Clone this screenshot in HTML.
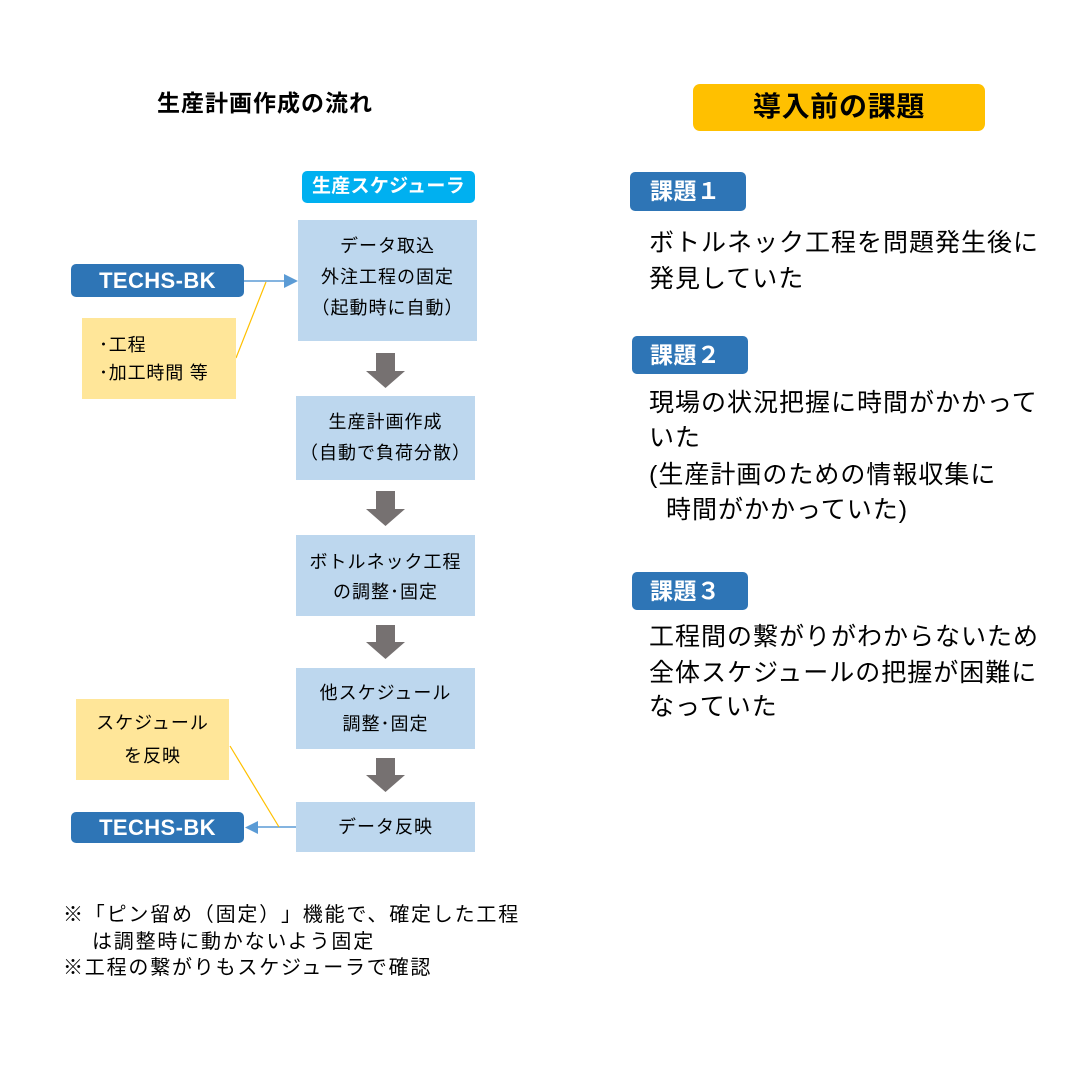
<!DOCTYPE html>
<html lang="ja">
<head>
<meta charset="utf-8">
<style>
  html,body{margin:0;padding:0;background:#fff;}
  body{width:1081px;height:1081px;position:relative;overflow:hidden;
       font-family:"Liberation Sans","Noto Sans CJK JP",sans-serif;color:#000;
       text-spacing-trim:space-all;}
  .a{position:absolute;}
  .t{position:absolute;white-space:nowrap;height:30px;line-height:30px;}
  .box{position:absolute;background:#BDD7EE;}
  .bt{position:absolute;white-space:nowrap;text-align:center;font-size:18px;letter-spacing:1px;height:30px;line-height:30px;}
  .yel{position:absolute;background:#FFE699;}
  .blue{position:absolute;background:#2E75B6;border-radius:5px;color:#fff;font-weight:bold;}
  .r{position:absolute;white-space:nowrap;font-size:25px;letter-spacing:1px;height:34px;line-height:34px;left:649px;}
  .n{position:absolute;white-space:nowrap;font-size:20px;letter-spacing:1.8px;height:26px;line-height:26px;}
</style>
</head>
<body>

<svg class="a" style="left:0;top:0" width="1081" height="1081" viewBox="0 0 1081 1081">
  <g fill="#767171">
    <polygon points="376,353 395,353 395,371 405,371 385.5,388 366,371 376,371"/>
    <polygon points="376,491 395,491 395,509 405,509 385.5,526 366,509 376,509"/>
    <polygon points="376,625 395,625 395,642 405,642 385.5,659 366,642 376,642"/>
    <polygon points="376,758 395,758 395,775 405,775 385.5,792 366,775 376,775"/>
  </g>
  <line x1="244" y1="281" x2="286" y2="281" stroke="#5B9BD5" stroke-width="1.5"/>
  <polygon points="284,274 298,281 284,288" fill="#5B9BD5"/>
  <line x1="296" y1="827" x2="257" y2="827" stroke="#5B9BD5" stroke-width="1.5"/>
  <polygon points="258,821 245,827.5 258,834" fill="#5B9BD5"/>
  <line x1="236" y1="358" x2="266" y2="282" stroke="#FFC000" stroke-width="1.2"/>
  <line x1="230" y1="746" x2="279" y2="827" stroke="#FFC000" stroke-width="1.2"/>
</svg>

<!-- Title -->
<div class="t" style="left:157px;top:88px;font-size:23px;font-weight:bold;letter-spacing:1px;">生産計画作成の流れ</div>

<!-- scheduler label -->
<div class="a" style="left:302px;top:171px;width:173px;height:32px;background:#00B0F0;border-radius:5px;"></div>
<div class="bt" style="left:302px;top:172px;width:173px;color:#fff;font-weight:bold;font-size:19px;letter-spacing:0.3px;">生産スケジューラ</div>

<!-- flow boxes -->
<div class="box" style="left:298px;top:220px;width:179px;height:121px;"></div>
<div class="bt" style="left:298px;top:231px;width:179px;">データ取込</div>
<div class="bt" style="left:298px;top:262px;width:179px;">外注工程の固定</div>
<div class="bt" style="left:298px;top:293px;width:179px;">（起動時に自動）</div>

<div class="box" style="left:296px;top:396px;width:179px;height:84px;"></div>
<div class="bt" style="left:296px;top:407px;width:179px;">生産計画作成</div>
<div class="bt" style="left:296px;top:438px;width:179px;">（自動で負荷分散）</div>

<div class="box" style="left:296px;top:535px;width:179px;height:81px;"></div>
<div class="bt" style="left:296px;top:547px;width:179px;">ボトルネック工程</div>
<div class="bt" style="left:296px;top:577px;width:179px;">の調整･固定</div>

<div class="box" style="left:296px;top:668px;width:179px;height:81px;"></div>
<div class="bt" style="left:296px;top:678px;width:179px;">他スケジュール</div>
<div class="bt" style="left:296px;top:709px;width:179px;">調整･固定</div>

<div class="box" style="left:296px;top:802px;width:179px;height:50px;"></div>
<div class="bt" style="left:296px;top:812px;width:179px;">データ反映</div>

<!-- TECHS-BK -->
<div class="blue" style="left:71px;top:264px;width:173px;height:33px;"></div>
<div class="bt" style="left:71px;top:266px;width:173px;color:#fff;font-weight:bold;font-size:22px;letter-spacing:0.4px;">TECHS-BK</div>
<div class="blue" style="left:71px;top:812px;width:173px;height:31px;"></div>
<div class="bt" style="left:71px;top:813px;width:173px;color:#fff;font-weight:bold;font-size:22px;letter-spacing:0.4px;">TECHS-BK</div>

<!-- yellow notes -->
<div class="yel" style="left:82px;top:318px;width:154px;height:81px;"></div>
<div class="t" style="left:99px;top:330px;font-size:18px;letter-spacing:0.8px;">･工程</div>
<div class="t" style="left:99px;top:358px;font-size:18px;letter-spacing:0.8px;">･加工時間 等</div>

<div class="yel" style="left:76px;top:699px;width:153px;height:81px;"></div>
<div class="bt" style="left:76px;top:708px;width:153px;">スケジュール</div>
<div class="bt" style="left:76px;top:741px;width:153px;">を反映</div>

<!-- footnotes -->
<div class="n" style="left:63px;top:902px;">※「ピン留め（固定）」機能で、確定した工程</div>
<div class="n" style="left:92px;top:929px;">は調整時に動かないよう固定</div>
<div class="n" style="left:63px;top:955px;">※工程の繋がりもスケジューラで確認</div>

<!-- right side -->
<div class="a" style="left:693px;top:84px;width:292px;height:47px;background:#FFC000;border-radius:7px;"></div>
<div class="t" style="left:693px;top:90px;width:292px;height:34px;line-height:34px;text-align:center;font-size:28px;font-weight:bold;letter-spacing:0.7px;">導入前の課題</div>

<div class="blue" style="left:630px;top:172px;width:116px;height:39px;"></div>
<div class="t" style="left:650px;top:176px;color:#fff;font-weight:bold;font-size:23px;letter-spacing:0.5px;">課題１</div>
<div class="r" style="top:226px;">ボトルネック工程を問題発生後に</div>
<div class="r" style="top:262px;">発見していた</div>

<div class="blue" style="left:632px;top:336px;width:116px;height:38px;"></div>
<div class="t" style="left:650px;top:340px;color:#fff;font-weight:bold;font-size:23px;letter-spacing:0.5px;">課題２</div>
<div class="r" style="top:386px;">現場の状況把握に時間がかかって</div>
<div class="r" style="top:421px;">いた</div>
<div class="r" style="top:458px;">(生産計画のための情報収集に</div>
<div class="r" style="top:493px;left:666px;">時間がかかっていた)</div>

<div class="blue" style="left:632px;top:572px;width:116px;height:38px;"></div>
<div class="t" style="left:650px;top:576px;color:#fff;font-weight:bold;font-size:23px;letter-spacing:0.5px;">課題３</div>
<div class="r" style="top:620px;">工程間の繋がりがわからないため</div>
<div class="r" style="top:656px;">全体スケジュールの把握が困難に</div>
<div class="r" style="top:690px;">なっていた</div>

</body>
</html>
